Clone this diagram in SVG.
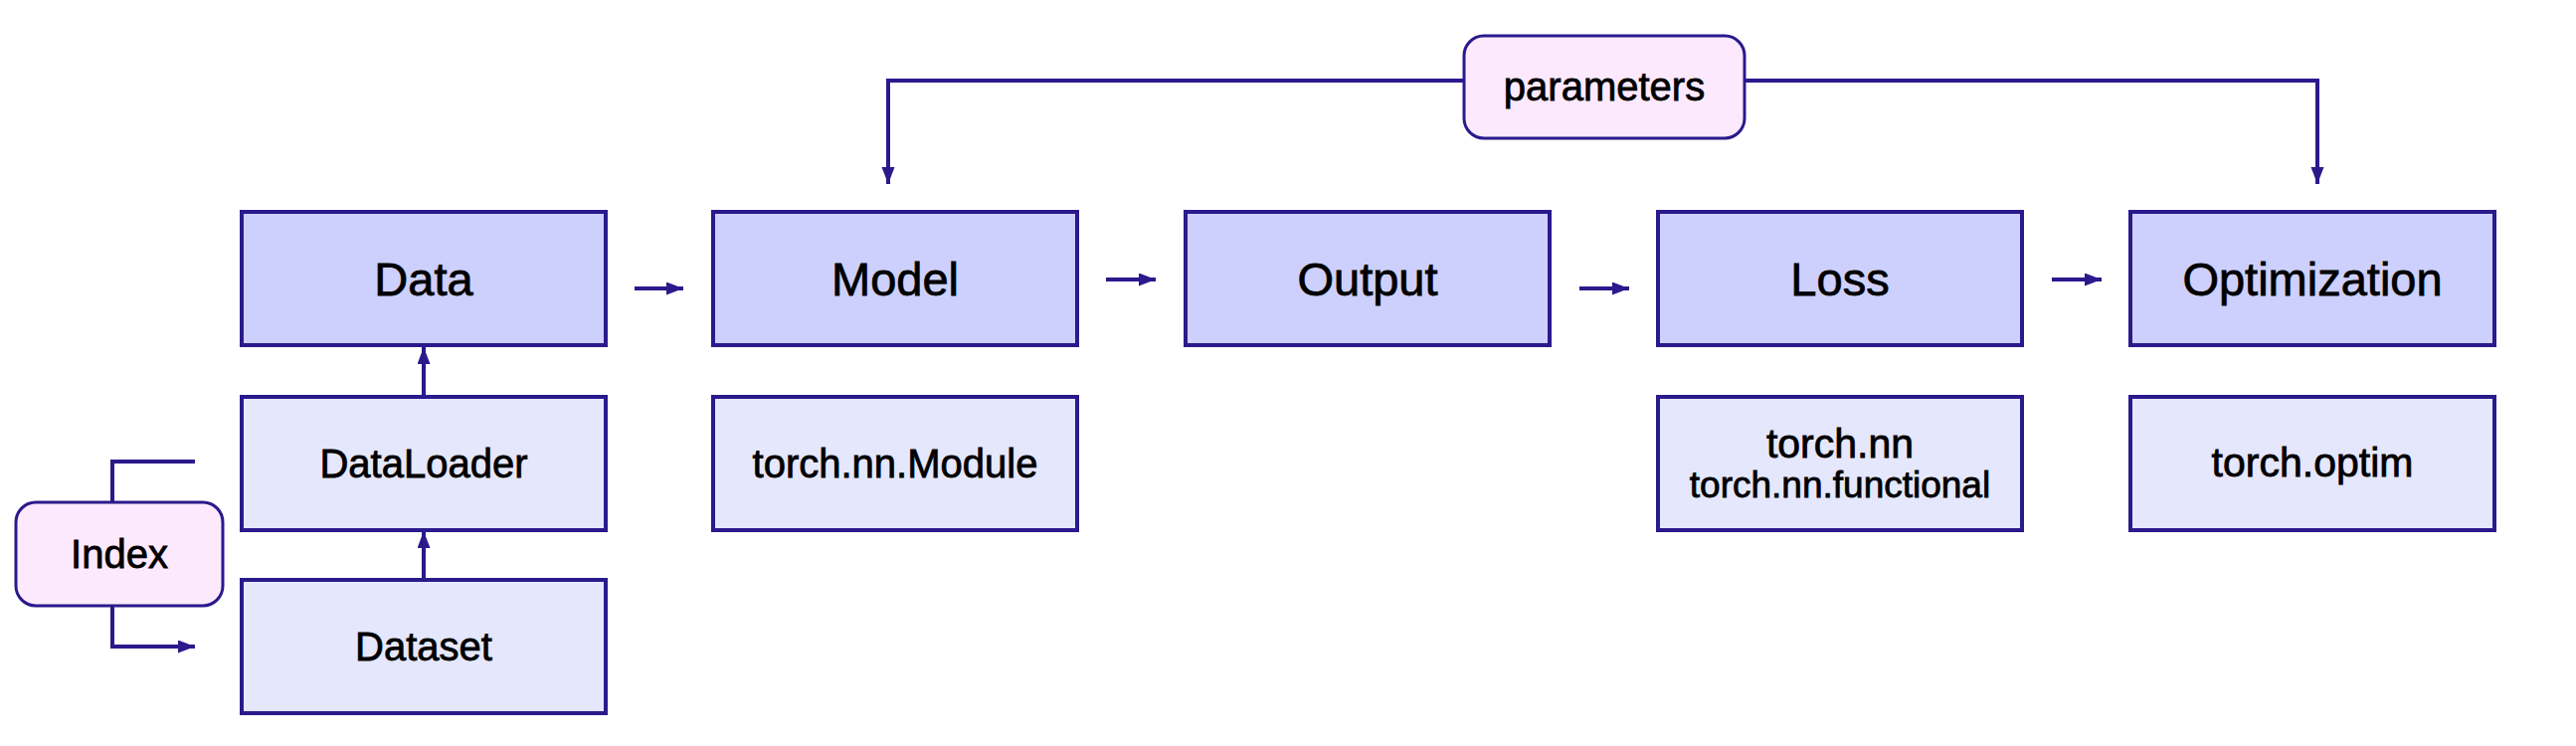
<svg xmlns="http://www.w3.org/2000/svg" width="2590" height="750" viewBox="0 0 2590 750">
<style>
.main{fill:#cdd0fc;stroke:#2a1a8c;stroke-width:4}
.sub{fill:#e5e7fc;stroke:#2a1a8c;stroke-width:4}
.pill{fill:#fde9fd;stroke:#2a1a8c;stroke-width:3}
.t{font-family:"Liberation Sans",Arial,sans-serif;fill:#000;stroke:#000;stroke-width:0.8;text-anchor:middle}
.big{font-size:47px}
.mid{font-size:40px}
.conn{fill:none;stroke:#2a1a8c;stroke-width:4}
</style>
<defs>
<marker id="ah" markerUnits="userSpaceOnUse" markerWidth="18" markerHeight="14" refX="17" refY="6.5" orient="auto">
<path d="M0,0 L17,6.5 L0,13 z" fill="#2a1a8c"/>
</marker>
</defs>
<rect width="2590" height="750" fill="#fff"/>
<g id="connectors">
<path class="conn" d="M1472,81 H893 V185" marker-end="url(#ah)"/>
<path class="conn" d="M1754,81 H2330 V185" marker-end="url(#ah)"/>
<path class="conn" d="M638,290 H687" marker-end="url(#ah)"/>
<path class="conn" d="M1112,281 H1162" marker-end="url(#ah)"/>
<path class="conn" d="M1588,290 H1638" marker-end="url(#ah)"/>
<path class="conn" d="M2063,281 H2113" marker-end="url(#ah)"/>
<path class="conn" d="M426,399 V349" marker-end="url(#ah)"/>
<path class="conn" d="M426,583 V534" marker-end="url(#ah)"/>
<path class="conn" d="M196,464 H113 V505"/>
<path class="conn" d="M113,609 V650 H196" marker-end="url(#ah)"/>
</g>
<g id="parameters"><rect class="pill" x="1472" y="36" width="282" height="103" rx="20"/><text class="t mid" x="1613" y="101">parameters</text></g>
<g id="data"><rect class="main" x="243" y="213" width="366" height="134"/><text class="t big" x="426" y="297">Data</text></g>
<g id="model"><rect class="main" x="717" y="213" width="366" height="134"/><text class="t big" x="900" y="297">Model</text></g>
<g id="output"><rect class="main" x="1192" y="213" width="366" height="134"/><text class="t big" x="1375" y="297">Output</text></g>
<g id="loss"><rect class="main" x="1667" y="213" width="366" height="134"/><text class="t big" x="1850" y="297">Loss</text></g>
<g id="optimization"><rect class="main" x="2142" y="213" width="366" height="134"/><text class="t big" x="2325" y="297">Optimization</text></g>
<g id="dataloader"><rect class="sub" x="243" y="399" width="366" height="134"/><text class="t mid" x="426" y="480">DataLoader</text></g>
<g id="dataset"><rect class="sub" x="243" y="583" width="366" height="134"/><text class="t mid" x="426" y="664">Dataset</text></g>
<g id="index"><rect class="pill" x="16" y="505" width="208" height="104" rx="20"/><text class="t mid" x="120" y="571">Index</text></g>
<g id="torch-nn-module"><rect class="sub" x="717" y="399" width="366" height="134"/><text class="t mid" x="900" y="480">torch.nn.Module</text></g>
<g id="torch-nn"><rect class="sub" x="1667" y="399" width="366" height="134"/><text class="t" style="font-size:41px" x="1850" y="460">torch.nn</text><text class="t" style="font-size:37px" x="1850" y="500">torch.nn.functional</text></g>
<g id="torch-optim"><rect class="sub" x="2142" y="399" width="366" height="134"/><text class="t" style="font-size:41px" x="2325" y="479">torch.optim</text></g>
</svg>
